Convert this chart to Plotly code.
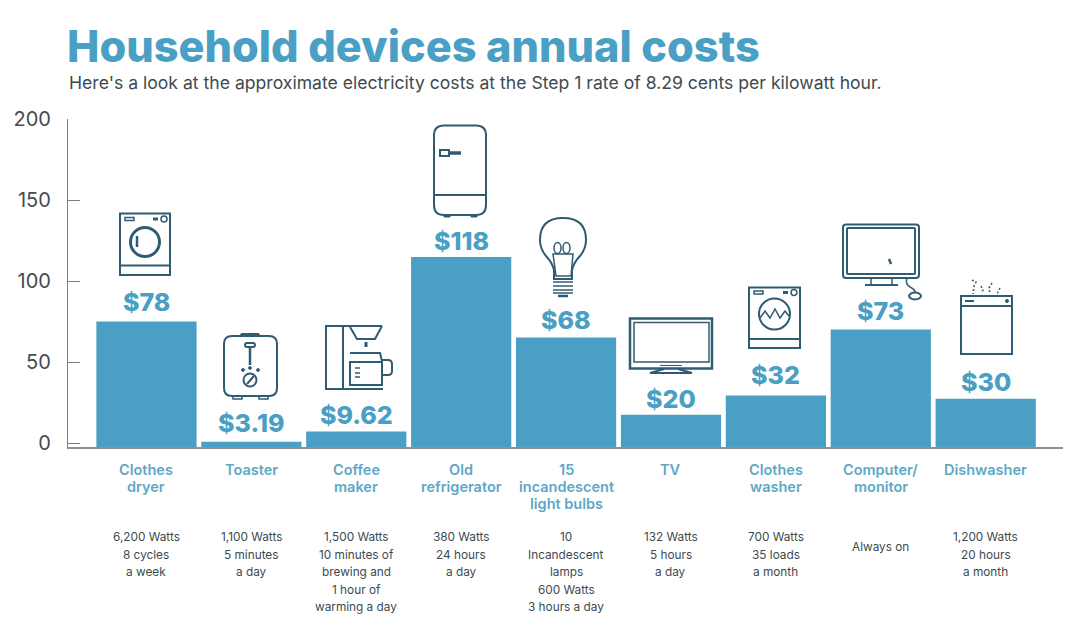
import plotly.graph_objects as go

# Data
categories = ["Clothes<br>dryer", "Toaster", "Coffee<br>maker", "Old<br>refrigerator",
              "15<br>incandescent<br>light bulbs", "TV", "Clothes<br>washer",
              "Computer/<br>monitor", "Dishwasher"]
annual_cost = [78, 3.19, 9.62, 118, 68, 20, 32, 73, 30]
cost_labels = ["$78", "$3.19", "$9.62", "$118", "$68", "$20", "$32", "$73", "$30"]
usage_notes = [
    ["6,200 Watts", "8 cycles", "a week"],
    ["1,100 Watts", "5 minutes", "a day"],
    ["1,500 Watts", "10 minutes of", "brewing and", "1 hour of", "warming a day"],
    ["380 Watts", "24 hours", "a day"],
    ["10", "Incandescent", "lamps", "600 Watts", "3 hours a day"],
    ["132 Watts", "5 hours", "a day"],
    ["700 Watts", "35 loads", "a month"],
    ["Always on"],
    ["1,200 Watts", "20 hours", "a month"],
]
y_ticks = [0, 50, 100, 150, 200]

# Canvas and plot frame, in screen pixels
W, H = 1080, 636
L, R, T, B = 68, 1063, 119, 447
BLUE = "#4a9fc4"
INK = "#2f5c72"
TEXT = "#3d4a50"
SANS = "Inter"


def px(x):
    return (x - L) / (R - L)


def py(y):
    return 1 - (y - T) / (B - T)


shapes = []


def path(d, fill=None, width=2, dash=None):
    """Adds an SVG path whose number pairs are screen pixels."""
    out, pair = [], []
    for tok in d.split():
        if tok.isalpha():
            out.append(tok)
        else:
            pair.append(float(tok))
            if len(pair) == 2:
                out.append(f"{px(pair[0]):.5f},{py(pair[1]):.5f}")
                pair = []
    line = dict(color=INK, width=width)
    if dash:
        line["dash"] = dash
    shapes.append(dict(type="path", xref="paper", yref="paper", path=" ".join(out),
                       line=line, fillcolor=fill or "rgba(0,0,0,0)"))


def rect(x0, y0, x1, y1, r=0, fill=None, width=2):
    if r:
        d = (f"M {x0+r} {y0} L {x1-r} {y0} Q {x1} {y0} {x1} {y0+r} L {x1} {y1-r} "
             f"Q {x1} {y1} {x1-r} {y1} L {x0+r} {y1} Q {x0} {y1} {x0} {y1-r} "
             f"L {x0} {y0+r} Q {x0} {y0} {x0+r} {y0} Z")
    else:
        d = f"M {x0} {y0} L {x1} {y0} L {x1} {y1} L {x0} {y1} Z"
    path(d, fill, width)


def circle(cx, cy, rx, ry=None, fill=None, width=2):
    ry = ry or rx
    shapes.append(dict(type="circle", xref="paper", yref="paper",
                       x0=px(cx - rx), x1=px(cx + rx), y0=py(cy + ry), y1=py(cy - ry),
                       line=dict(color=INK, width=width),
                       fillcolor=fill or "rgba(0,0,0,0)"))


def drum_controls(x0, x1, y):
    rect(x0 + 5, y - 1.5, x0 + 14, y + 1.5, width=1.5)
    path(f"M {x1-17} {y} L {x1-12} {y}", width=3)
    circle(x1 - 6, y, 3, width=1.5)


# Dryer
rect(120, 213.5, 170, 275)
path("M 120 265.5 L 170 265.5")
circle(145, 242, 14.5, width=3)
path("M 137 236 L 137 247", width=2.5)
drum_controls(120, 170, 219)

# Toaster
rect(224, 336, 277, 396, r=8)
path("M 240 336 L 242 334 L 258 334 L 260 336", width=2)
rect(245, 343, 255, 347, r=2)
path("M 250 347 L 250 365", width=2.5)
for dot_x in (243, 250, 258):
    circle(dot_x, 370 if dot_x != 250 else 368, 1.4, fill=INK, width=1)
circle(250, 380, 6.5)
path("M 247 384 L 254 376", width=2)
rect(233, 396, 242, 399, width=1.5)
rect(259, 396, 268, 399, width=1.5)

# Coffee maker
path("M 382 326 L 326 326 L 326 389 L 383 389")
path("M 343 326 L 343 389")
path("M 350 327 L 357 339 L 375 339 L 382 326")
path("M 366 342 L 366 347", width=3)
path("M 350 353 L 380 353 L 382 361 L 382 385 L 350 385 L 350 362 L 382 362")
path("M 382 360 L 388 360 Q 392 360 392 364 L 392 371 Q 392 375 388 375 L 383 375")
for mark_y in (368, 373, 377):
    path(f"M 355 {mark_y} L 360 {mark_y}", width=1.5)

# Refrigerator
rect(434, 125.5, 486, 215, r=10)
path("M 434 195 L 486 195")
rect(440, 150, 449, 156, width=2)
path("M 449 153 L 461 153", width=3.5)
rect(444, 215, 450, 217, fill=INK, width=1)
rect(471, 215, 477, 217, fill=INK, width=1)

# Light bulb
path("M 554 279 L 554 270 Q 552 262 546 256 Q 540 249 540 240 Q 540 218 563 218 "
     "Q 586 218 586 240 Q 586 249 580 256 Q 574 262 572 270 L 572 279 Z")
path("M 553 254 L 573 254 L 571 276 L 556 276 Z", width=1.5)
circle(557.5, 248, 3.5, 5.5, width=1.5)
circle(566.5, 248, 3.5, 5.5, width=1.5)
for bar_y in (282, 286, 290, 293):
    path(f"M 553 {bar_y} L 573 {bar_y}", width=1.5)
path("M 558 296 L 568 296", width=2.5)

# Television
rect(630, 318.5, 712, 368.5, width=2.5)
rect(634, 322.5, 709, 362, width=1.5)
path("M 664 369 L 650 373 L 692 373 L 678 369", width=2)
path("M 660 365.5 L 682 365.5", width=1)

# Washer
rect(749, 287.5, 800, 348)
path("M 749 339 L 800 339")
circle(774.5, 314, 15.5, width=2)
path("M 760 318 L 765 311 L 770 318 L 775 309 L 780 318 L 785 311 L 789 316", width=1.5)
drum_controls(749, 800, 292.5)

# Monitor and mouse
rect(843, 224.5, 919, 278, r=3, width=2)
rect(847, 228, 915, 274, r=1, width=2)
path("M 871 278 L 871 285 M 892 278 L 892 285", width=1.5)
path("M 865 285 L 898 285", width=2)
path("M 907 278 Q 905 284 910 287 Q 916 290 915 293", width=1.5)
circle(915, 296, 6, 3.5, width=2)
path("M 889 259 L 891 264", width=2.5)

# Dishwasher with steam
rect(961, 296, 1012, 354)
path("M 961 306 L 1012 306", width=2)
path("M 965 301 L 974 301", width=2)
circle(1007, 301, 1.5, fill=INK, width=1)
for steam in ("M 972 280 L 976 282 L 974 286 L 973 294", "M 981 286 L 983 290 L 981 293",
              "M 992 283 L 989 288 L 990 294", "M 1000 288 L 998 292 L 997 294"):
    path(steam, width=1.5, dash="2px,2px")

# Lift of each cost label above its bar, in pixels
label_lift = [2, 2, 0, -1, 1, -1, 3, 1, 0]
annotations = []
for cat, val, txt, lift in zip(categories, annual_cost, cost_labels, label_lift):
    annotations.append(dict(x=cat, y=val, xref="x", yref="y", text=txt, showarrow=False,
                            yanchor="bottom", yshift=lift,
                            font=dict(family=SANS, size=25, color=BLUE, weight=800)))

# Category names under the axis, one annotation per line for a tight line pitch
for cat in categories:
    for j, line in enumerate(cat.split("<br>")):
        annotations.append(dict(x=cat, y=py(469 + 17 * j), xref="x", yref="paper", text=line,
                                showarrow=False, yanchor="middle",
                                font=dict(family=SANS, size=14.5, color="#5ea8c6", weight=600)))

# Usage notes below the names
for i, lines in enumerate(usage_notes):
    first = 547 if len(lines) == 1 else 537
    for j, line in enumerate(lines):
        annotations.append(dict(x=categories[i], y=py(first + 17.5 * j), xref="x", yref="paper",
                                text=line, showarrow=False, yanchor="middle",
                                font=dict(family=SANS, size=11.8, color=TEXT)))

annotations.append(dict(x=px(67), y=py(83), xref="paper", yref="paper", xanchor="left",
                        yanchor="middle", showarrow=False,
                        text="Here's a look at the approximate electricity costs at the Step 1 rate of 8.29 cents per kilowatt hour.",
                        font=dict(family=SANS, size=17.6, color=TEXT)))

fig = go.Figure()
fig.add_bar(x=categories, y=annual_cost, marker=dict(color=BLUE, line=dict(width=0)),
            width=0.955, showlegend=False, hoverinfo="skip")
fig.add_scatter(x=categories, y=annual_cost, yaxis="y2", mode="none",
                showlegend=False, hoverinfo="skip")

fig.update_layout(
    width=W, height=H, autosize=False, paper_bgcolor="white", plot_bgcolor="white",
    margin=dict(l=L, r=W - R, t=T, b=H - B, pad=0),
    title=dict(text="Household devices annual costs", x=67 / W, y=1 - 47 / H,
               xanchor="left", yanchor="middle", xref="container", yref="container",
               font=dict(family="Inter", size=43.3, color=BLUE, weight=800)),
    xaxis=dict(type="category", categoryorder="array", categoryarray=categories,
               range=[-0.748, 8.737], showgrid=False, ticks="", showline=True,
               linecolor="#8a9297", linewidth=1.5, showticklabels=False),
    yaxis=dict(range=[0, 328 / 1.61], visible=False, fixedrange=True),
    yaxis2=dict(range=[-2.47, 200], overlaying="y", side="left", anchor="x",
                tickvals=y_ticks, showgrid=False, zeroline=False, showline=True,
                linecolor="#777f84", linewidth=1.2, ticks="inside", ticklen=12,
                tickcolor="#777f84", tickwidth=1.2, ticklabelstandoff=12,
                tickfont=dict(family=SANS, size=20, color="#444c50")),
    shapes=shapes, annotations=annotations,
)
fig.write_html("out.html")
